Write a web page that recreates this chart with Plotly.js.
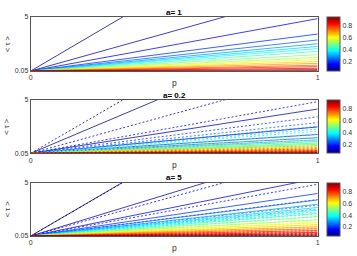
<!DOCTYPE html>
<html><head><meta charset="utf-8">
<script src="https://cdn.plot.ly/plotly-3.0.1.min.js"></script>
<style>html,body{margin:0;padding:0;background:#fff;}#chart{width:357px;height:256px;}</style>
</head><body><div id="chart"></div>
<script>
// ---- data ----
const pVals = [0, 1];                 // p at start and end of each ray
const tauStart = 0.05;                // <tau> at p = 0
const qVals = [0.05,0.10,0.15,0.20,0.25,0.30,0.35,0.40,0.45,0.50,0.55,0.60,0.65,0.70,0.75,0.80,0.85,0.90,0.95];
// <tau> at p = 1
const endA1      = [15.5,7.4,4.85,3.44,2.9,2.55,2.3,2.1,1.85,1.55,1.3,1.1,0.92,0.75,0.58,0.45,0.3,0.18,0.08];
const endTheory  = [15.5,7.4,4.85,3.44,2.9,2.55,2.3,2.1,1.85,1.55,1.3,1.1,0.92,0.75,0.58,0.45,0.3,0.18,0.08];
const endA02Sim  = [11.3,4.16,2.5,1.8,1.5,1.3,1.15,1.0,0.88,0.76,0.65,0.55,0.46,0.38,0.3,0.22,0.15,0.1,0.06];
const endA5Sim   = [15.6,8.2,5.4,4.0,3.4,3.0,2.7,2.45,2.15,1.85,1.55,1.3,1.1,0.9,0.72,0.55,0.38,0.24,0.12];
const panelTitles = ["a= 1", "a= 0.2", "a= 5"];
const yTicks = [0.05, 5];
const yTickText = ["0.05", "5"];
const xTicks = [0, 1];
const cbTicks = [0.2, 0.4, 0.6, 0.8];
const cMin = 0.05, cMax = 0.95;

// ---- style ----
const jet = [[0,'rgb(0,0,128)'],[0.125,'rgb(0,0,255)'],[0.375,'rgb(0,255,255)'],[0.625,'rgb(255,255,0)'],[0.875,'rgb(255,0,0)'],[1,'rgb(128,0,0)']];
function jetColor(v){
  let t = (v - cMin)/(cMax - cMin); t = Math.max(0, Math.min(1, t));
  const pts = jet.map(s => [s[0], s[1].match(/\d+/g).map(Number)]);
  for (let i = 0; i < pts.length-1; i++){
    if (t <= pts[i+1][0]){
      const f = (t - pts[i][0])/(pts[i+1][0]-pts[i][0]);
      const c = pts[i][1].map((a,k)=>Math.round(a + f*(pts[i+1][1][k]-a)));
      return 'rgb('+c.join(',')+')';
    }
  }
  return jet[jet.length-1][1];
}
const font = 'Liberation Sans, Arial, sans-serif';
const W = 357, H = 256;
const xDom = [30.7/W, 317.7/W];
const panelPx = [[17,71],[100,153.3],[182.7,236]];
const yDoms = panelPx.map(([t,b]) => [1-b/H, 1-t/H]);

const traces = [];
const panels = [
  {sim: endA1, theory: null},
  {sim: endA02Sim, theory: endTheory},
  {sim: endA5Sim, theory: endTheory}
];
panels.forEach((pan, k) => {
  const xa = k===0 ? 'x' : 'x'+(k+1), ya = k===0 ? 'y' : 'y'+(k+1);
  qVals.forEach((q, i) => {
    const col = jetColor(q);
    if (pan.theory){
      traces.push({type:'scatter', mode:'lines', x:pVals, y:[tauStart, pan.theory[i]], xaxis:xa, yaxis:ya, opacity:0.85,
        line:{color:col, width:0.9, dash:'2px,2px'}, showlegend:false, hoverinfo:'skip'});
    }
    traces.push({type:'scatter', mode:'lines', x:pVals, y:[tauStart, pan.sim[i]], xaxis:xa, yaxis:ya, opacity:0.85,
      line:{color:col, width:0.9}, showlegend:false, hoverinfo:'skip'});
  });
  // colorbar carrier
  const d = yDoms[k];
  traces.push({type:'scatter', mode:'markers', x:[null], y:[null], xaxis:xa, yaxis:ya, showlegend:false, hoverinfo:'skip',
    marker:{color:[cMin], cmin:cMin, cmax:cMax, colorscale:jet, showscale:true, size:0.1,
      colorbar:{x:326.7/W, xanchor:'left', xpad:0, ypad:0, y:(d[0]+d[1])/2, yanchor:'middle', len:d[1]-d[0], lenmode:'fraction',
        thickness:12.5, thicknessmode:'pixels', outlinewidth:1, outlinecolor:'#555', borderwidth:0,
        tickvals:cbTicks, ticktext:cbTicks.map(String), ticks:'', ticklabelpad:2,
        tickfont:{family:font, size:7, color:'#333'}}}});
});

const layout = {width:W, height:H, margin:{l:0,r:0,t:0,b:0}, paper_bgcolor:'#fff', plot_bgcolor:'#fff', showlegend:false,
  annotations:[]};
panels.forEach((pan,k) => {
  const sfx = k===0 ? '' : String(k+1);
  layout['xaxis'+sfx] = {domain:xDom, range:[0,1], anchor:'y'+sfx, tickvals:xTicks, ticktext:['0','1'], ticks:'inside', ticklen:2,
    tickcolor:'#555', showgrid:false, zeroline:false, showline:true, mirror:true, linecolor:'#555', linewidth:1,
    tickfont:{family:font, size:7, color:'#333'}};
  layout['yaxis'+sfx] = {domain:yDoms[k], range:[0.05,5], anchor:'x'+sfx, tickvals:yTicks, ticktext:yTickText, ticks:'inside', ticklen:2,
    tickcolor:'#555', showgrid:false, zeroline:false, showline:true, mirror:true, linecolor:'#555', linewidth:1,
    tickfont:{family:font, size:7, color:'#333'}};
  const [t,b] = panelPx[k];
  layout.annotations.push({text:'<b>'+panelTitles[k]+'</b>', xref:'paper', yref:'paper', x:174/W, y:1-(t-5)/H, xanchor:'center', yanchor:'middle',
    showarrow:false, font:{family:font, size:8, color:'#000'}});
  layout.annotations.push({text:'p', xref:'paper', yref:'paper', x:174/W, y:1-(b+5)/H, xanchor:'center', yanchor:'top',
    showarrow:false, font:{family:font, size:8.5, color:'#333'}});
  layout.annotations.push({text:'&lt; τ &gt;', xref:'paper', yref:'paper', x:7/W, y:1-((t+b)/2)/H, xanchor:'center', yanchor:'middle',
    textangle:-90, showarrow:false, font:{family:font, size:7.5, color:'#333'}});
});
Plotly.newPlot('chart', traces, layout, {displayModeBar:false, staticPlot:true});
</script>
</body></html>
